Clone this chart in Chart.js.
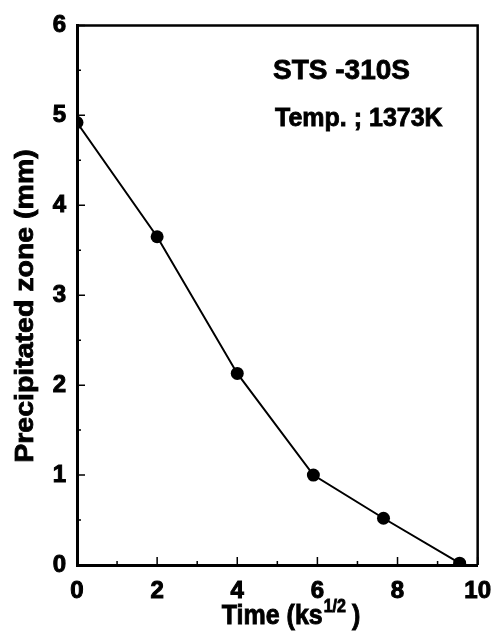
<!DOCTYPE html>
<html>
<head>
<meta charset="utf-8">
<script src="https://cdn.jsdelivr.net/npm/chart.js@4/dist/chart.umd.min.js"></script>
<style>
html, body { margin: 0; padding: 0; background: #fff; }
#contenedor { width: 503px; height: 633px; }
</style>
</head>
<body>
<div id="contenedor"><canvas id="grafico"></canvas></div>
<script>
// datos
var tiempo = [0, 2, 4, 5.9, 7.65, 9.55];
var zona = [4.92, 3.65, 2.13, 1.0, 0.52, 0.02];
var ticksX = [0, 2, 4, 6, 8, 10];
var ticksY = [0, 1, 2, 3, 4, 5, 6];
var menoresX = [1, 3, 5, 7, 9];
var menoresY = [0.5, 1.5, 2.5, 3.5, 4.5, 5.5];
var tituloX = 'Time (ks';
var supX = '1/2';
var tituloY = 'Precipitated zone (mm)';
var nota1 = 'STS -310S';
var nota2 = 'Temp. ; 1373K';

var fuente = '"Liberation Sans", Arial, Helvetica, sans-serif';

function textoEstirado(ctx, txt, x, y, size, sy, align) {
    ctx.save();
    ctx.translate(x, y);
    ctx.scale(1, sy);
    ctx.font = 'bold ' + size + 'px ' + fuente;
    ctx.textAlign = align;
    ctx.textBaseline = 'alphabetic';
    ctx.lineWidth = 0.8;
    ctx.strokeText(txt, 0, 0);
    ctx.fillText(txt, 0, 0);
    ctx.restore();
}

var marcoPlugin = {
    id: 'marco',
    afterDraw: function (chart) {
        var ctx = chart.ctx;
        var a = chart.chartArea;
        var sx = chart.scales.x;
        var sy = chart.scales.y;
        ctx.save();
        ctx.strokeStyle = '#000';
        ctx.fillStyle = '#000';

        // borde superior y derecho
        ctx.lineWidth = 2.5;
        ctx.beginPath();
        ctx.moveTo(a.left, a.top);
        ctx.lineTo(a.right, a.top);
        ctx.lineTo(a.right, a.bottom);
        ctx.stroke();

        // marcas hacia adentro
        ctx.lineWidth = 1.5;
        ctx.beginPath();
        var i, p;
        for (i = 0; i < ticksX.length; i++) {
            p = sx.getPixelForValue(ticksX[i]);
            ctx.moveTo(p, a.bottom);
            ctx.lineTo(p, a.bottom - 8);
        }
        for (i = 0; i < menoresX.length; i++) {
            p = sx.getPixelForValue(menoresX[i]);
            ctx.moveTo(p, a.bottom);
            ctx.lineTo(p, a.bottom - 4);
        }
        for (i = 0; i < ticksY.length; i++) {
            p = sy.getPixelForValue(ticksY[i]);
            ctx.moveTo(a.left, p);
            ctx.lineTo(a.left + 8, p);
        }
        for (i = 0; i < menoresY.length; i++) {
            p = sy.getPixelForValue(menoresY[i]);
            ctx.moveTo(a.left, p);
            ctx.lineTo(a.left + 4, p);
        }
        ctx.stroke();

        // titulo eje x con superindice
        ctx.font = 'bold 25px ' + fuente;
        var w1 = ctx.measureText(tituloX).width;
        ctx.font = 'bold 16px ' + fuente;
        var w2 = ctx.measureText(supX).width;
        ctx.font = 'bold 25px ' + fuente;
        var w3 = ctx.measureText(')').width;
        var total = w1 + w2 + 7 + w3;
        var x0 = 291 - total / 2;
        textoEstirado(ctx, tituloX, x0, 624, 25, 1.1, 'left');
        textoEstirado(ctx, supX, x0 + w1 + 1, 612, 16, 1.1, 'left');
        textoEstirado(ctx, ')', x0 + w1 + w2 + 7, 624, 25, 1.1, 'left');

        // titulo eje y
        ctx.save();
        ctx.translate(33, 306);
        ctx.rotate(-Math.PI / 2);
        ctx.scale(1.14, 1);
        ctx.font = 'bold 25px ' + fuente;
        ctx.textAlign = 'center';
        ctx.lineWidth = 0.8;
        ctx.strokeText(tituloY, 0, 0);
        ctx.fillText(tituloY, 0, 0);
        ctx.restore();

        // notas
        textoEstirado(ctx, nota1, 273, 79, 28, 1.0, 'left');
        textoEstirado(ctx, nota2, 275, 126, 25, 1.0, 'left');

        ctx.restore();
    }
};

new Chart(document.getElementById('grafico'), {
    type: 'line',
    data: {
        datasets: [{
            data: tiempo.map(function (t, i) { return {x: t, y: zona[i]}; }),
            borderColor: '#000',
            backgroundColor: '#000',
            borderWidth: 2,
            pointRadius: 6.5,
            pointBackgroundColor: '#000',
            pointBorderWidth: 0,
            tension: 0,
            clip: 0
        }]
    },
    options: {
        responsive: true,
        maintainAspectRatio: false,
        animation: false,
        layout: {
            padding: {top: 15, right: 15, left: 0, bottom: 0}
        },
        plugins: {
            legend: {display: false},
            tooltip: {enabled: false}
        },
        scales: {
            x: {
                type: 'linear',
                min: 0,
                max: 10,
                afterBuildTicks: function (scale) {
                    scale.ticks = ticksX.map(function (v) { return {value: v}; });
                },
                afterFit: function (scale) { scale.height = 68; },
                grid: {display: false, drawTicks: false},
                border: {display: true, color: '#000', width: 3},
                ticks: {
                    color: '#000',
                    padding: 12,
                    maxRotation: 0,
                    textStrokeColor: '#000',
                    textStrokeWidth: 1,
                    font: {family: fuente, size: 24, weight: 'bold'}
                }
            },
            y: {
                type: 'linear',
                min: 0,
                max: 6,
                afterBuildTicks: function (scale) {
                    scale.ticks = ticksY.map(function (v) { return {value: v}; });
                },
                afterFit: function (scale) { scale.width = 77; },
                grid: {display: false, drawTicks: false},
                border: {display: true, color: '#000', width: 3},
                ticks: {
                    color: '#000',
                    padding: 11,
                    textStrokeColor: '#000',
                    textStrokeWidth: 1,
                    font: {family: fuente, size: 24, weight: 'bold'}
                }
            }
        }
    },
    plugins: [marcoPlugin]
});
</script>
</body>
</html>
